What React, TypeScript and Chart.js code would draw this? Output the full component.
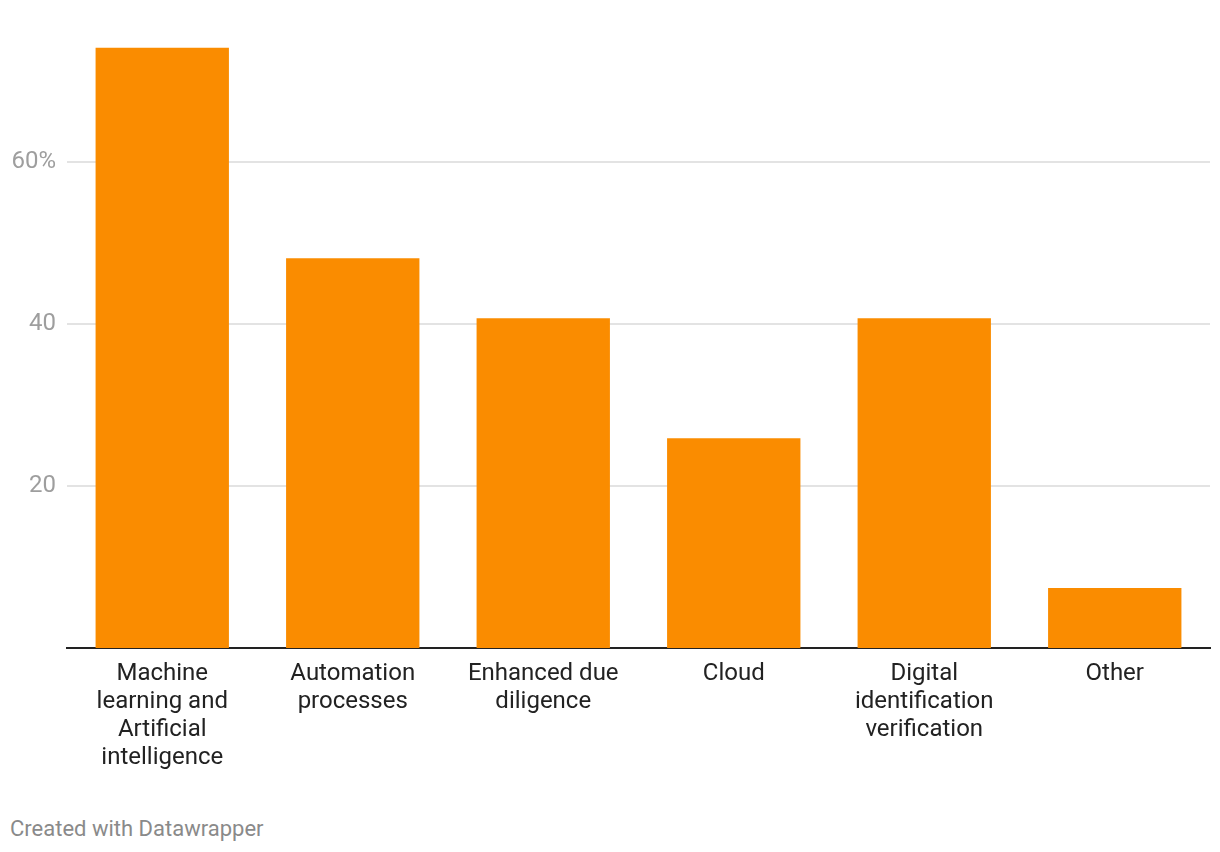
import React, { useEffect, useRef } from "react";
import { Chart, registerables } from "chart.js";

Chart.register(...registerables);

const categories: string[][] = [
  ["Machine", "learning and", "Artificial", "intelligence"],
  ["Automation", "processes"],
  ["Enhanced due", "diligence"],
  ["Cloud"],
  ["Digital", "identification", "verification"],
  ["Other"],
];
const values: number[] = [74.1, 48.1, 40.7, 25.9, 40.7, 7.4];
const yTicks: number[] = [20, 40, 60];
const yTickLabels: string[] = ["20", "40", "60%"];

export default function App() {
  const ref = useRef<HTMLCanvasElement | null>(null);
  useEffect(() => {
    if (!ref.current) return;
    const chart = new Chart(ref.current, {
      type: "bar",
      data: {
        labels: categories,
        datasets: [
          {
            data: values,
            backgroundColor: "#fa8c00",
            borderWidth: 0,
            categoryPercentage: 1,
            barPercentage: 0.7,
          },
        ],
      },
      options: {
        animation: false,
        responsive: true,
        maintainAspectRatio: false,
        layout: { padding: { top: 0, right: 2, left: 1, bottom: 0 } },
        plugins: { legend: { display: false }, tooltip: { enabled: false } },
        scales: {
          x: {
            grid: { display: false, drawTicks: false },
            border: { display: true, color: "#222222", width: 2 },
            ticks: {
              color: "#222222",
              padding: 12,
              maxRotation: 0,
              autoSkip: false,
              font: { family: "Roboto", size: 24, lineHeight: "28px" },
            },
            afterFit: (s: any) => {
              s.height = 140;
              s.paddingLeft = 0;
              s.paddingRight = 0;
            },
          },
          y: {
            min: 0,
            max: 79,
            grid: { color: "#e3e3e3", lineWidth: 2, drawTicks: false },
            border: { display: false },
            afterBuildTicks: (s: any) => {
              s.ticks = yTicks.map((v) => ({ value: v }));
            },
            ticks: {
              color: "#9e9e9e",
              padding: 11,
              font: { family: "Roboto", size: 24 },
              callback: (v: any) => {
                const i = yTicks.indexOf(Number(v));
                return i >= 0 ? yTickLabels[i] : "";
              },
            },
            afterFit: (s: any) => {
              s.width = 58;
              s.paddingTop = 0;
              s.paddingBottom = 0;
            },
          },
        },
      },
    });
    return () => chart.destroy();
  }, []);
  return (
    <div style={{ fontFamily: "Roboto" }}>
      <div style={{ position: "relative", width: 1204, height: 780 }}>
        <canvas ref={ref} />
      </div>
      <div
        style={{
          marginTop: 29,
          paddingLeft: 2,
          fontSize: 22,
          lineHeight: "24px",
          color: "#8a8a8a",
        }}
      >
        Created with Datawrapper
      </div>
    </div>
  );
}
